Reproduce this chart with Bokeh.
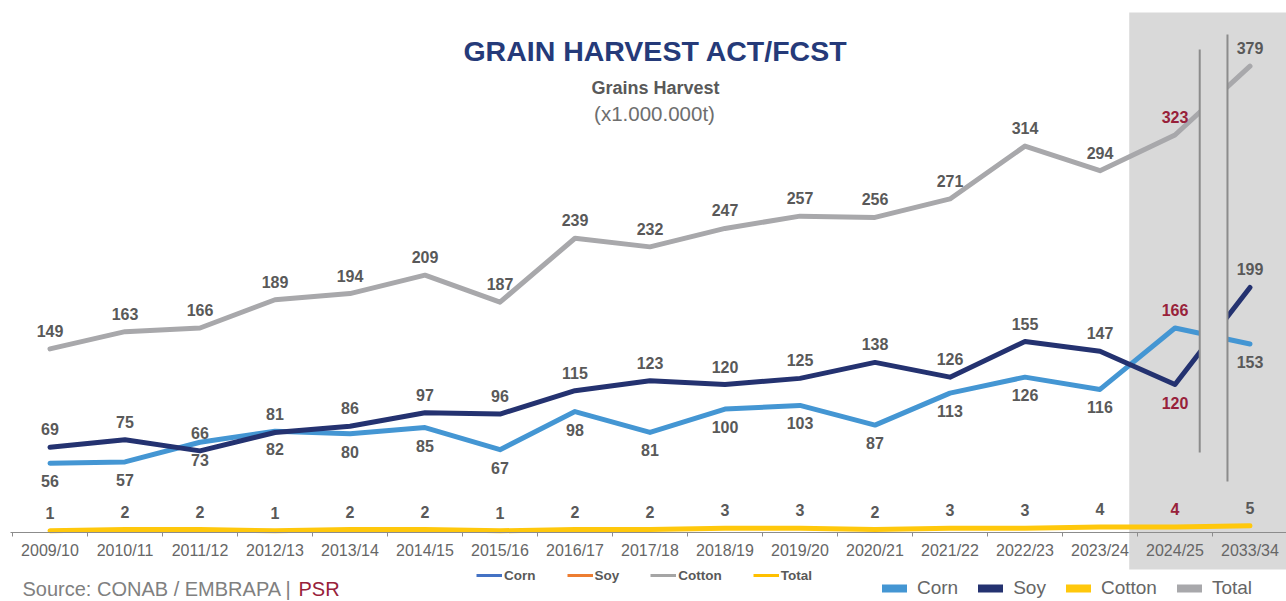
from bokeh.plotting import figure
from bokeh.models import (Range1d, LinearAxis, FixedTicker, ColumnDataSource,
                          Label, Legend, LegendItem)
from bokeh.core.properties import value
from bokeh.embed import file_html
from bokeh.resources import INLINE

# ---------------- data ----------------
categories = ["2009/10", "2010/11", "2011/12", "2012/13", "2013/14", "2014/15",
              "2015/16", "2016/17", "2017/18", "2018/19", "2019/20", "2020/21",
              "2021/22", "2022/23", "2023/24", "2024/25", "2033/34"]
corn = [56, 57, 73, 82, 80, 85, 67, 98, 81, 100, 103, 87, 113, 126, 116, 166, 153]
soy = [69, 75, 66, 81, 86, 97, 96, 115, 123, 120, 125, 138, 126, 155, 147, 120, 199]
cotton = [1, 2, 2, 1, 2, 2, 1, 2, 2, 3, 3, 2, 3, 3, 4, 4, 5]
total = [149, 163, 166, 189, 194, 209, 187, 239, 232, 247, 257, 256, 271, 314, 294, 323, 379]
series_names = ["Corn", "Soy", "Cotton", "Total"]
forecast_category = "2024/25"

# ---------------- styling ----------------
W, H = 1286, 601
PX_PER_UNIT = 1.229
ZERO_Y = 531.5          # px from top of canvas where value 0 sits
C_CORN = "#4496D3"
C_SOY = "#243270"
C_COTTON = "#FFC80C"
C_TOTAL = "#A8A8AB"
C_SHADE = "#D9D9D9"
C_LABEL = "#595959"
C_RED = "#98213A"
FONT = "Liberation Sans"

n = len(categories)
xs = [i + 0.5 for i in range(n)]

p = figure(width=W, height=H,
           x_range=Range1d(-0.16, 16.987),
           y_range=Range1d(-(H - ZERO_Y) / PX_PER_UNIT, ZERO_Y / PX_PER_UNIT),
           x_axis_type=None, y_axis_type=None,
           output_backend="svg", toolbar_location=None,
           min_border=0, outline_line_color=None,
           background_fill_color="white", border_fill_color="white")

# shaded forecast panel
p.quad(left=[14.89], right=[17.5], bottom=[-30.5], top=[422.7],
       fill_color=C_SHADE, line_color=None)

src = ColumnDataSource(dict(x=xs, corn=corn, soy=soy, cotton=cotton, total=total))
common = dict(source=src, line_width=5, line_join="round", line_cap="round")
r_total = p.line("x", "total", line_color=C_TOTAL, **common)
r_cotton = p.line("x", "cotton", line_color=C_COTTON, **common)
r_corn = p.line("x", "corn", line_color=C_CORN, **common)
r_soy = p.line("x", "soy", line_color=C_SOY, **common)

# axis-break mask and break lines
p.quad(left=[15.83], right=[16.2], bottom=[41], top=[405],
       fill_color=C_SHADE, line_color=None)
p.segment(x0=[15.83, 16.2], y0=[64.7, 41.1], x1=[15.83, 16.2], y1=[392.6, 404.8],
          line_color="#8C8C8C", line_width=2)

# data labels
OFF = 18
lx, ly, lt, ld, lc = [], [], [], [], []
for name, vals in (("total", total), ("cotton", cotton), ("corn", corn), ("soy", soy)):
    for i, v in enumerate(vals):
        is_fc = categories[i] == forecast_category
        above = True
        if name == "corn":
            above = is_fc
        elif name == "soy":
            above = not is_fc
        lx.append(xs[i])
        ly.append(v)
        lt.append(str(v))
        ld.append(-OFF if above else OFF)
        lc.append(C_RED if is_fc else C_LABEL)
lsrc = ColumnDataSource(dict(x=lx, y=ly, text=lt, dy=ld, color=lc))
p.text(x="x", y="y", text="text", source=lsrc, y_offset="dy",
       text_color="color", text_align="center", text_baseline="middle",
       text_font=value(FONT), text_font_style="bold", text_font_size="16px")

# x axis with boundary ticks (minor) and centred labels
xaxis = LinearAxis(ticker=FixedTicker(ticks=xs, minor_ticks=list(range(n + 1))),
                   major_label_overrides={x: c for x, c in zip(xs, categories)},
                   fixed_location=0, bounds=(-0.03, n),
                   major_tick_in=0, major_tick_out=0,
                   minor_tick_in=0, minor_tick_out=4,
                   minor_tick_line_color="#8C8C8C",
                   axis_line_color="#8C8C8C", axis_line_width=1,
                   major_label_standoff=6,
                   major_label_text_font=FONT,
                   major_label_text_font_size="16px",
                   major_label_text_color="#666666")
p.add_layout(xaxis, "below")

# legend 1 (as in the original: default office palette), hidden twins of the series
ys_cols = ["corn", "soy", "cotton", "total"]
d1 = [p.line("x", col, source=src, line_color=c, line_width=3, visible=False)
      for col, c in zip(ys_cols, ("#4472C4", "#ED7D31", "#A5A5A5", "#FFC000"))]
leg1 = Legend(items=[LegendItem(label=l, renderers=[r])
                     for l, r in zip(series_names, d1)],
              orientation="horizontal", location=(476, 18),
              label_text_font=FONT, label_text_font_style="bold",
              label_text_font_size="13.5px", label_text_color=C_LABEL,
              glyph_width=26, glyph_height=16, label_height=16,
              label_standoff=2, spacing=31, padding=0, margin=0,
              border_line_color=None, background_fill_alpha=0)
p.add_layout(leg1)

# legend 2
d2 = [p.line("x", col, source=src, line_color=c, line_width=8, line_cap="round",
             visible=False)
      for col, c in zip(ys_cols, (C_CORN, C_SOY, C_COTTON, C_TOTAL))]
leg2 = Legend(items=[LegendItem(label=l, renderers=[r])
                     for l, r in zip(series_names, d2)],
              orientation="horizontal", location=(882, 2),
              label_text_font=FONT, label_text_font_size="19px",
              label_text_color="#666666",
              glyph_width=25, glyph_height=20, label_height=20,
              label_standoff=10, spacing=20, padding=0, margin=0,
              border_line_color=None, background_fill_alpha=0)
p.add_layout(leg2)

# titles
p.add_layout(Label(x=655, y=H - 50, x_units="screen", y_units="screen",
                   text="GRAIN HARVEST ACT/FCST", text_align="center",
                   text_baseline="alphabetic", text_font=FONT,
                   text_font_style="bold", text_font_size="28.5px",
                   text_color="#253A79"))
p.add_layout(Label(x=655, y=H - 87, x_units="screen", y_units="screen",
                   text="Grains Harvest", text_align="center",
                   text_baseline="alphabetic", text_font=FONT,
                   text_font_style="bold", text_font_size="18px",
                   text_color=C_LABEL))
p.add_layout(Label(x=654, y=H - 113, x_units="screen", y_units="screen",
                   text="(x1.000.000t)", text_align="center",
                   text_baseline="alphabetic", text_font=FONT,
                   text_font_size="20.5px", text_color="#6E6E6E"))

# source
p.add_layout(Label(x=22, y=13, x_units="screen", y_units="screen",
                   text="Source: CONAB / EMBRAPA |", text_baseline="alphabetic",
                   text_font=FONT, text_font_size="20px", text_color="#808080"))
p.add_layout(Label(x=298, y=13, x_units="screen", y_units="screen",
                   text="PSR", text_baseline="alphabetic",
                   text_font=FONT, text_font_size="20px", text_color=C_RED))

open("out.html", "w").write(file_html(p, INLINE))
